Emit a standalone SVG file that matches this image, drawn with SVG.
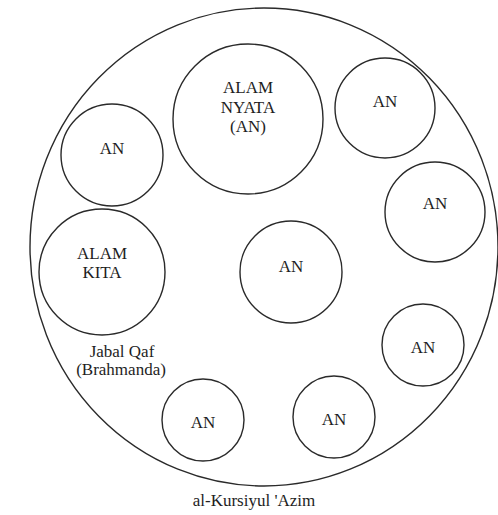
<svg xmlns="http://www.w3.org/2000/svg" width="498" height="515" viewBox="0 0 498 515">
<style>
.c{fill:none;stroke:#2a2a2a;stroke-width:1.4}
.t{font-family:"Liberation Serif","Times New Roman",serif;font-size:17px;fill:#1e1e1e;text-anchor:middle}
</style>
<rect width="498" height="515" fill="#ffffff"/>
<g id="kursi"><ellipse class="c" cx="264" cy="247" rx="234" ry="239"/></g>
<g id="alam-nyata"><circle class="c" cx="248" cy="119" r="75"/><text class="t" x="248" y="93">ALAM</text><text class="t" x="248" y="113">NYATA</text><text class="t" x="248" y="132">(AN)</text></g>
<g id="an-1"><circle class="c" cx="385" cy="108" r="50"/><text class="t" x="385" y="107">AN</text></g>
<g id="an-2"><circle class="c" cx="112" cy="155" r="51"/><text class="t" x="112" y="154">AN</text></g>
<g id="an-3"><circle class="c" cx="435" cy="212" r="50"/><text class="t" x="435" y="209">AN</text></g>
<g id="alam-kita"><circle class="c" cx="102" cy="272" r="63"/><text class="t" x="102" y="259">ALAM</text><text class="t" x="102" y="278">KITA</text></g>
<g id="an-4"><circle class="c" cx="291" cy="272" r="51"/><text class="t" x="291" y="272">AN</text></g>
<g id="an-5"><circle class="c" cx="423" cy="345" r="41"/><text class="t" x="423" y="353">AN</text></g>
<g id="an-6"><circle class="c" cx="203" cy="420" r="41"/><text class="t" x="203" y="428">AN</text></g>
<g id="an-7"><circle class="c" cx="334" cy="417" r="41"/><text class="t" x="334" y="425">AN</text></g>
<g id="labels"><text class="t" x="122" y="357">Jabal Qaf</text><text class="t" x="121" y="375">(Brahmanda)</text><text class="t" x="254" y="506">al-Kursiyul 'Azim</text></g>
<g id="connectors"></g>
</svg>
